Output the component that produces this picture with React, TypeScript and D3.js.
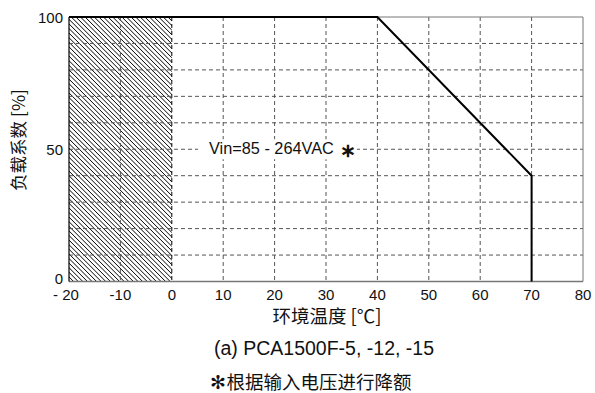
import React from "react";
import * as d3 from "d3";

const xTicks = [-20, -10, 0, 10, 20, 30, 40, 50, 60, 70, 80];
const xTickLabels = ["- 20", "-10", "0", "10", "20", "30", "40", "50", "60", "70", "80"];
const yTickLabels = [0, 50, 100];
const yGrid = [10, 20, 30, 40, 50, 60, 70, 80, 90];
const curveTemp = [-20, 40, 70, 70];
const curveLoad = [100, 100, 40, 0];
const hatchRange = [-20, 0];

const W = 595, H = 393;
const FONT = "'Liberation Sans', Arial, 'Noto Sans CJK SC', sans-serif";
const CJK = "'Noto Sans CJK SC', 'Liberation Sans', sans-serif";

export default function App() {
  const x = d3.scaleLinear().domain([-20, 80]).range([69, 583]);
  const y = d3.scaleLinear().domain([0, 100]).range([281.5, 17]);
  const pts = curveTemp.map((t, i) => [x(t), y(curveLoad[i])] as [number, number]);
  const line = d3.line()(pts) || "";
  const hx0 = x(hatchRange[0]);
  const hx1 = x(hatchRange[1]);
  const hatchLines: React.ReactNode[] = [];
  const top = y(100), bot = y(0);
  const h = bot - top;
  for (let s = hx0 - h; s < hx1; s += 4.6) {
    hatchLines.push(
      <line key={s} x1={s} y1={top} x2={s + h} y2={bot} stroke="#000" strokeWidth={1} />
    );
  }
  return (
    <svg width={W} height={H} style={{ position: "absolute", left: 0, top: 0, background: "#fff" }}>
      <defs>
        <clipPath id="hc">
          <rect x={hx0} y={top} width={hx1 - hx0} height={h} />
        </clipPath>
      </defs>
      <rect x={0} y={0} width={W} height={H} fill="#fff" />
      <g clipPath="url(#hc)">{hatchLines}</g>
      {yGrid.map((v) => (
        <line key={"gy" + v} x1={x(-20)} x2={x(80)} y1={y(v)} y2={y(v)} stroke="#555" strokeWidth={1} strokeDasharray="4,3" />
      ))}
      {xTicks.filter((t) => t > -20 && t < 80).map((t) => (
        <line key={"gx" + t} x1={x(t)} x2={x(t)} y1={y(100)} y2={y(0)} stroke={t === 0 ? "#000" : "#555"} strokeWidth={1} strokeDasharray="4,3" />
      ))}
      <rect x={198} y={y(50) - 10} width={159} height={20} fill="#fff" />
      <text x={209} y={y(50) + 5} fontFamily={FONT} fontSize={16.3} fill="#111">Vin=85 - 264VAC</text>
      <text x={348} y={y(50) + 7.5} fontFamily={CJK} fontSize={19} fill="#111" textAnchor="middle" fontWeight="bold">∗</text>
      <line x1={x(-20)} x2={x(80)} y1={y(0)} y2={y(0)} stroke="#777" strokeWidth={1.5} />
      <line x1={x(80)} x2={x(80)} y1={y(0)} y2={y(100)} stroke="#777" strokeWidth={1} />
      <line x1={x(-20)} x2={x(80)} y1={y(100)} y2={y(100)} stroke="#777" strokeWidth={1} />
      <line x1={x(-20)} x2={x(-20)} y1={y(0)} y2={y(100)} stroke="#000" strokeWidth={1.2} />
      <path d={line} fill="none" stroke="#000" strokeWidth={2} strokeLinejoin="miter" />
      {xTicks.map((t, i) => (
        <text key={"xt" + t} x={x(t) - (i === 0 ? 3 : 0)} y={300} textAnchor="middle" fontFamily={FONT} fontSize={15} fill="#111">
          {xTickLabels[i]}
        </text>
      ))}
      {yTickLabels.map((v) => (
        <text key={"yt" + v} x={63} y={y(v) + (v === 0 ? 2 : 5.5)} textAnchor="end" fontFamily={FONT} fontSize={15} fill="#111">{v}</text>
      ))}
      <text transform={`translate(25,${140}) rotate(-90)`} textAnchor="middle" fontFamily={CJK} fontSize={17.5} fill="#111">负载系数 [%]</text>
      <text x={327} y={323} textAnchor="middle" fontFamily={CJK} fontSize={18.5} fill="#111">环境温度 [℃]</text>
      <text x={324} y={355} textAnchor="middle" fontFamily={FONT} fontSize={19.5} fill="#111">(a) PCA1500F-5, -12, -15</text>
      <text x={311} y={389} textAnchor="middle" fontFamily={CJK} fontSize={18.5} fill="#111">✻根据输入电压进行降额</text>
    </svg>
  );
}
